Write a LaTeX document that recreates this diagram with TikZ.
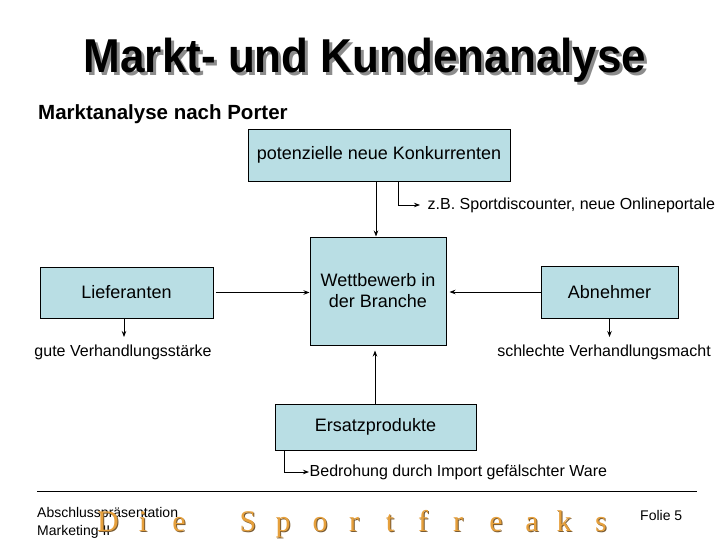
\documentclass[tikz,border=0pt]{standalone}
\usepackage{fontspec}
\setmainfont{Liberation Sans}
\newfontfamily\serifletters{Liberation Serif}
\usetikzlibrary{arrows.meta}
\definecolor{boxblue}{RGB}{185,222,228}
\definecolor{freakorange}{RGB}{230,160,60}
\definecolor{freakshadow}{RGB}{120,90,50}
\tikzset{
  x=1pt, y=-1pt,
  boxnode/.style={draw=black, line width=1pt, fill=boxblue, minimum width=#1, align=center, font=\fontsize{18}{21}\selectfont},
  notetext/.style={font=\fontsize{16}{19}\selectfont, inner sep=1.5pt},
  arr/.style={line width=0.8pt, -{Stealth[length=6pt,width=4.5pt]}},
  foot/.style={font=\fontsize{14}{16}\selectfont, inner sep=0pt, anchor=base west},
  freak/.style={font=\serifletters\fontsize{30}{32}\selectfont, text=freakorange, inner sep=0pt, anchor=base},
  freaksh/.style={font=\serifletters\fontsize{30}{32}\selectfont, text=freakshadow, inner sep=0pt, anchor=base},
}
\begin{document}
\begin{tikzpicture}
\useasboundingbox (0,0) rectangle (728,546);
% title
\node[anchor=base, text=black!45, font=\bfseries\fontsize{44}{48}\selectfont, inner sep=0pt, yscale=1.08] (titlesh) at (368,75) {Markt- und Kundenanalyse};
\node[anchor=base, font=\bfseries\fontsize{44}{48}\selectfont, inner sep=0pt, yscale=1.08] (title) at (365,72) {Markt- und Kundenanalyse};
\node[anchor=base west, font=\bfseries\fontsize{20.5}{23}\selectfont, inner sep=0pt] (sub) at (38,119) {Marktanalyse nach Porter};
% boxes
\node[boxnode=262pt, minimum height=52pt] (pnk) at (379,155) {potenzielle neue Konkurrenten};
\node[boxnode=136pt, minimum height=108pt] (wett) at (378,291) {Wettbewerb in\\der Branche};
\node[boxnode=173pt, minimum height=51pt] (lief) at (126.5,292.5) {Lieferanten};
\node[boxnode=137pt, minimum height=52pt] (abn) at (609.5,292) {Abnehmer};
\node[boxnode=201pt, minimum height=46pt] (ers) at (375.5,427) {Ersatzprodukte};
% annotations
\node[notetext, anchor=west] (zb) at (426,205) {z.B. Sportdiscounter, neue Onlineportale};
\node[notetext] (gute) at (123,352) {gute Verhandlungsstärke};
\node[notetext] (schl) at (604,352) {schlechte Verhandlungsmacht};
\node[notetext, anchor=west] (bed) at (308,472) {Bedrohung durch Import gefälschter Ware};
% connectors
\draw[arr] ([xshift=-2pt]wett.north |- pnk.south) -- ([xshift=-2pt]wett.north);
\draw[arr] ([xshift=19pt]pnk.south) |- ([xshift=-6pt]zb.west);
\draw[arr, shorten <=2pt] (lief.east) -- (lief.east -| wett.west);
\draw[arr, shorten >=3pt] (abn.west) -- (abn.west -| wett.east);
\draw[arr, shorten >=5pt] ([xshift=-0.5pt]ers.north) -- ([xshift=-0.5pt]ers.north |- wett.south);
\draw[arr] ([xshift=-2.5pt]lief.south) -- ([xshift=-2.5pt]lief.south |- 0,337);
\draw[arr] (abn.south) -- (abn.south |- 0,337);
\draw[arr] ([xshift=10pt]ers.south west) |- ([xshift=1pt]bed.west);
% footer
\coordinate (fl) at (37,491);
\coordinate (fr) at (697,491);
\draw[line width=1pt] (fl) -- (fr);
\node[foot] (abs) at (37,517) {Abschlusspräsentation};
\node[foot] (mkt) at (37,535) {Marketing II};
\node[foot] (folie) at (640,520) {Folie 5};
\foreach \ch/\xx [count=\i] in {D/108,i/143,e/179,S/248,p/283,o/320,r/354,t/390,f/423,r/458,e/496,a/532,k/564,s/601}{
  \node[freaksh] (fs\i) at (\xx+1,532) {\ch};
  \node[freak] (f\i) at (\xx,531) {\ch};
}
\end{tikzpicture}
\end{document}
